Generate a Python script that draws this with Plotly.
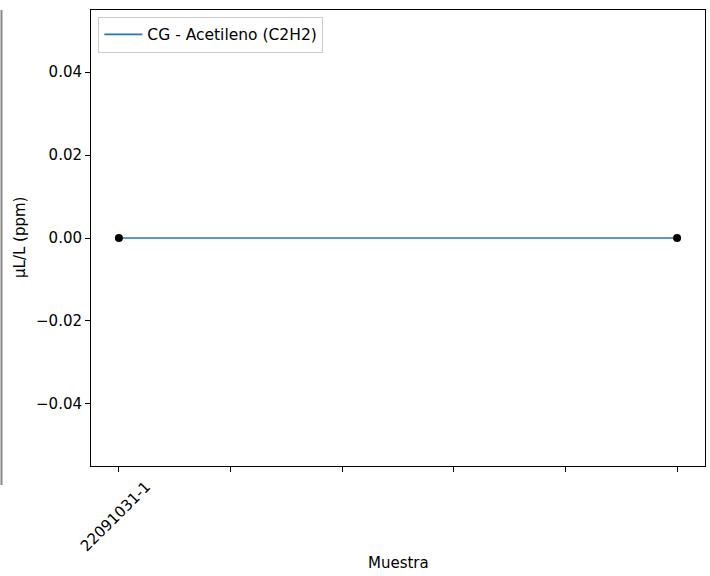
import plotly.graph_objects as go

sample_pos = [0, 1]
values = [0.0, 0.0]
series_name = "CG - Acetileno (C2H2)"
x_tick_vals = [0, 0.2, 0.4, 0.6, 0.8, 1.0]
x_tick_text = ["22091031-1", "", "", "", "", ""]
y_tick_vals = [-0.04, -0.02, 0.0, 0.02, 0.04]
y_tick_text = ["\u22120.04", "\u22120.02", "0.00", "0.02", "0.04"]
x_title = "Muestra"
y_title = "µL/L (ppm)"

fig = go.Figure()
fig.add_trace(go.Scatter(x=sample_pos, y=values, mode="lines", name=series_name,
                         line=dict(color="#1f77b4", width=1.6)))
fig.add_trace(go.Scatter(x=sample_pos, y=values, mode="markers", showlegend=False,
                         marker=dict(color="black", size=8)))

font = dict(family="DejaVu Sans", size=15, color="black")
fig.update_layout(
    width=710, height=576,
    margin=dict(l=91, r=5, t=10, b=110, autoexpand=False),
    plot_bgcolor="white", paper_bgcolor="white",
    font=font,
    showlegend=True,
    legend=dict(x=0.012, y=0.985, xanchor="left", yanchor="top",
                bgcolor="rgba(255,255,255,0.8)", bordercolor="#cccccc", borderwidth=1,
                itemwidth=38,
                font=dict(family="DejaVu Sans", size=15.5)),
    xaxis=dict(range=[-0.05, 1.05], tickvals=x_tick_vals, ticktext=x_tick_text,
               tickangle=-45, ticks="outside", ticklen=5, tickcolor="black",
               ticklabelshift=27,
               showline=True, linecolor="black", linewidth=1, mirror=True,
               showgrid=False, zeroline=False, automargin=False),
    yaxis=dict(range=[-0.055, 0.055], tickvals=y_tick_vals, ticktext=y_tick_text,
               ticks="outside", ticklen=5, tickcolor="black",
               showline=True, linecolor="black", linewidth=1, mirror=True,
               showgrid=False, zeroline=False, automargin=False),
)
fig.add_annotation(text=x_title, xref="paper", yref="paper", x=0.5, y=-0.2127,
                   xanchor="center", yanchor="middle", showarrow=False, font=font)
fig.add_annotation(text=y_title, xref="paper", yref="paper", x=-0.1156, y=0.5,
                   xanchor="center", yanchor="middle", textangle=-90, showarrow=False, font=font)
fig.add_shape(type="line", xref="paper", yref="paper",
              x0=-0.1458, x1=-0.1458, y0=-0.0417, y1=1.0,
              line=dict(color="#888888", width=2))
fig.write_html("out.html", config={"displayModeBar": False},
               post_script="document.body.style.margin='0';document.body.style.overflow='hidden';")
